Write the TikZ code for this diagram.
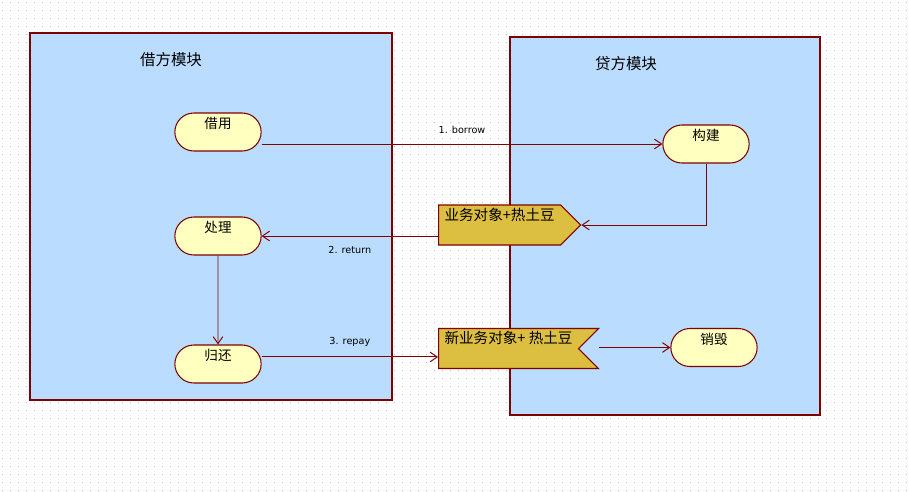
\documentclass[tikz,border=0pt]{standalone}
\usepackage{fontspec}
\newfontfamily\cjk{Noto Sans CJK SC}
\newfontfamily\lblfont{DejaVu Sans}
\usetikzlibrary{shapes.misc,shapes.symbols,arrows.meta}
\definecolor{edgered}{HTML}{800000}
\definecolor{moduleblue}{HTML}{BADCFE}
\definecolor{stateyellow}{HTML}{FFFFC0}
\definecolor{tokengold}{HTML}{DCBE41}
\definecolor{dotgray}{HTML}{C4C4C4}

\begin{document}
\begin{tikzpicture}[x=0.02cm,y=-0.02cm,
  module/.style={fill=moduleblue, draw=edgered, line width=0.6pt},
  title/.style={font=\cjk\fontsize{8.8pt}{10pt}\selectfont},
  state/.style={rounded rectangle, draw=edgered, fill=stateyellow, line width=0.6pt,
    minimum width=1.96cm, minimum height=0.76cm, inner ysep=1pt,
    text height=6pt, text depth=9.7pt, font=\cjk\fontsize{7.7pt}{9pt}\selectfont},
  token/.style={signal, draw=edgered, fill=tokengold, line width=0.6pt,
    minimum height=0.8cm, inner xsep=3.4pt, inner ysep=1pt,
    text height=6pt, text depth=11.6pt, font=\cjk\fontsize{8.3pt}{9pt}\selectfont},
  flow/.style={draw=edgered, line width=0.55pt, -{Straight Barb[length=4pt,width=5.5pt]}},
  lbl/.style={font=\lblfont\fontsize{5.5pt}{6pt}\selectfont, inner sep=1pt}]
\useasboundingbox (0,0) rectangle (909,491);
\fill[white] (0,0) rectangle (909,491);
\foreach \j in {0,...,61}{
  \fill[dotgray] \foreach \i in {0,...,113}{(2+8*\i,2+8*\j) rectangle ++(1,1)};
}

\draw[module] (30,33) rectangle (392,400);
\draw[module] (510,37) rectangle (820,415);
\node[title] (debit) at (171,60) {借方模块};
\node[title] (credit) at (626,64) {贷方模块};

\node[state] (borrow) at (218,132) {借用};
\node[state] (handle) at (218,236) {处理};
\node[state] (giveback) at (218,364) {归还};
\node[state] (build) at (706,144) {构建};
\node[state] (destroy) at (714,347.5) {销毁};

\node[token, signal to=east, anchor=west] (potato) at (438,225) {业务对象+热土豆};
\node[token, signal to=nowhere, signal from=east, anchor=west] (newpotato) at (438,348.5) {新业务对象+ 热土豆};

\draw[flow] (borrow.east |- build.west) -- node[lbl, above=4.5pt] (lblborrow) {1. borrow} (build.west);
\draw[flow] (build.south) |- (potato.east);
\draw[flow] (potato.west |- handle.east) -- node[lbl, below=4.5pt] (lblreturn) {2. return} (handle.east);
\draw[flow] (handle) -- (giveback);
\draw[flow] ([yshift=4pt]giveback.east) -- node[lbl, above=4.5pt] (lblrepay) {3. repay} ([yshift=4pt]giveback.east -| newpotato.west);
\draw[flow] ([xshift=0.4cm]newpotato.east |- destroy.west) -- (destroy.west);
\end{tikzpicture}
\end{document}
